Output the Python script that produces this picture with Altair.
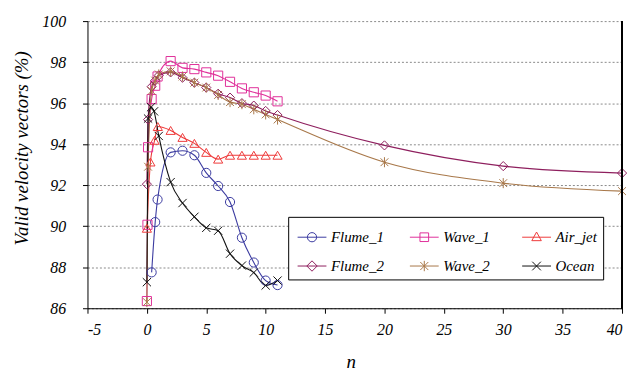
import altair as alt
import pandas as pd

# ---- data ----
series = ["Flume_1", "Wave_1", "Air_jet", "Flume_2", "Wave_2", "Ocean"]
colors = ["#3B3BA0", "#E0309A", "#EE3A3A", "#8E1F5E", "#A8784A", "#111111"]

flume1_n = [0.4, 0.7, 0.9, 2, 3, 4, 5, 6, 7, 8, 9, 10, 11]
flume1_v = [87.75, 90.2, 91.3, 93.6, 93.68, 93.46, 92.6, 91.96, 91.18, 89.44, 88.23, 87.35, 87.13]

wave1_n = [0, 0.05, 0.1, 0.4, 0.7, 0.9, 2, 3, 4, 5, 6, 7, 8, 9, 10, 11]
wave1_v = [86.35, 90.07, 93.85, 96.2, 96.85, 97.3, 98.05, 97.72, 97.66, 97.5, 97.34, 97.04, 96.72, 96.53, 96.37, 96.09]

airjet_n = [0, 0.3, 0.65, 0.92, 2, 3, 4, 5, 6, 7, 8, 9, 10, 11]
airjet_v = [89.9, 93.13, 94.19, 94.86, 94.67, 94.33, 94.04, 93.6, 93.27, 93.46, 93.46, 93.46, 93.46, 93.46]

flume2_n = [0, 0.1, 0.4, 0.7, 1, 2, 3, 4, 5, 6, 7, 8, 9, 10, 11, 20, 30, 40]
flume2_v = [92.05, 95.2, 96.8, 97.1, 97.35, 97.5, 97.24, 97.0, 96.76, 96.46, 96.27, 96.0, 95.88, 95.62, 95.42, 93.94, 92.93, 92.59]

wave2_n = [0, 0.1, 0.4, 0.7, 1, 2, 3, 4, 5, 6, 7, 8, 9, 10, 11, 20, 30, 40]
wave2_v = [86.3, 92.9, 96.6, 97.1, 97.4, 97.55, 97.3, 97.0, 96.76, 96.4, 96.05, 95.95, 95.7, 95.45, 95.2, 93.12, 92.1, 91.71]

ocean_n = [0, 0.1, 0.35, 0.6, 1, 2, 3, 4, 5, 6, 7, 8, 9, 10, 11]
ocean_v = [87.27, 95.25, 95.8, 95.6, 94.4, 92.15, 91.13, 90.46, 89.92, 89.78, 88.66, 88.08, 87.74, 87.11, 87.35]

x_ticks = [-5, 0, 5, 10, 15, 20, 25, 30, 35, 40]
y_ticks = [86, 88, 90, 92, 94, 96, 98, 100]

pairs = [(flume1_n, flume1_v), (wave1_n, wave1_v), (airjet_n, airjet_v),
         (flume2_n, flume2_v), (wave2_n, wave2_v), (ocean_n, ocean_v)]
rows = []
for s, (ns, vs) in zip(series, pairs):
    for i, (n, v) in enumerate(zip(ns, vs)):
        rows.append({"series": s, "n": n, "v": v, "i": i})
df = pd.DataFrame(rows)

# ---- marker shapes ----
asterisk = "M0,-1.1V1.1M-0.85,-0.85L0.85,0.85M-0.85,0.85L0.85,-0.85"
xmark = "M-0.9,-0.9L0.9,0.9M-0.9,0.9L0.9,-0.9"
plot_shapes = ["circle", "square", "triangle-up", "diamond", asterisk, xmark]

cx = 0.24
ln = f"M{-1+cx},0H{1+cx}"
r = 0.32
leg_shapes = [
    ln + f"M{cx+r},0A{r},{r} 0 1,1 {cx-r},0A{r},{r} 0 1,1 {cx+r},0Z",
    ln + f"M{cx-0.3},-0.3H{cx+0.3}V0.3H{cx-0.3}Z",
    ln + f"M{cx},-0.36L{cx+0.33},0.24H{cx-0.33}Z",
    ln + f"M{cx},-0.36L{cx+0.36},0L{cx},0.36L{cx-0.36},0Z",
    ln + f"M{cx},-0.36V0.36M{cx-0.28},-0.28L{cx+0.28},0.28M{cx-0.28},0.28L{cx+0.28},-0.28",
    ln + f"M{cx-0.3},-0.3L{cx+0.3},0.3M{cx-0.3},0.3L{cx+0.3},-0.3",
]

font = "Liberation Serif"

x_enc = alt.X("n:Q", scale=alt.Scale(domain=[-5, 40], nice=False, zero=False),
              axis=alt.Axis(values=x_ticks, title="n", grid=False, tickSize=5,
                            labelPadding=8, labelExpr="'' + datum.value",
                            labelFont=font, labelFontStyle="italic", labelFontSize=16,
                            titleFont=font, titleFontStyle="italic",
                            titleFontSize=19, titleY=54, titleX=265,
                            titleBaseline="middle"))
y_enc = alt.Y("v:Q", scale=alt.Scale(domain=[86, 100], nice=False, zero=False),
              axis=alt.Axis(values=y_ticks, title="Valid velocity vectors (%)", grid=True,
                            gridDash=[2, 2], gridColor="#8a8a8a", tickSize=5,
                            labelFont=font, labelFontStyle="italic", labelFontSize=16,
                            titleFont=font, titleFontStyle="italic",
                            labelPadding=17, titleFontSize=19, titleX=-66, titleY=127.5,
                            titleAngle=270, titleAlign="center", titleBaseline="middle"))

color_scale = alt.Scale(domain=series, range=colors)

base = alt.Chart(df)

lines = base.mark_line(strokeWidth=1.1, interpolate="monotone").encode(
    x=x_enc, y=y_enc,
    color=alt.Color("series:N", scale=color_scale, legend=None),
    detail="series:N",
    order="i:Q",
)

points = base.mark_point(filled=False, size=85, strokeWidth=1, opacity=1).encode(
    x=x_enc, y=y_enc,
    color=alt.Color("series:N", scale=color_scale, legend=None),
    shape=alt.Shape("series:N", scale=alt.Scale(domain=series, range=plot_shapes), legend=None),
)

legend_layer = base.transform_filter("false").mark_point(filled=False, strokeWidth=1, opacity=1).encode(
    x=x_enc, y=y_enc,
    color=alt.Color("series:N", scale=color_scale, legend=alt.Legend(title=None)),
    shape=alt.Shape("series:N", scale=alt.Scale(domain=series, range=leg_shapes),
                    legend=alt.Legend(title=None)),
)

right_border = alt.Chart(df).mark_rule(color="black", strokeWidth=1).encode(
    x=alt.datum(40)
)

chart = alt.layer(lines, points, legend_layer, right_border).resolve_scale(
    color="independent", shape="independent"
).properties(
    width=538, height=289,
    autosize=alt.AutoSizeParams(type="none"),
    padding={"left": 80, "top": 12, "right": 5, "bottom": 68},
).configure_view(stroke=None).configure_axis(
    labelColor="black", titleColor="black",
    domainColor="black", tickColor="black", domainWidth=1, tickWidth=1,
    titleFontWeight="normal",
).configure_legend(
    orient="none", legendX=202, legendY=197,
    direction="horizontal", columns=3, gridAlign="all",
    strokeColor="black", fillColor="white", padding=5.5, cornerRadius=0,
    symbolSize=841, symbolStrokeWidth=1, labelOffset=7.5,
    columnPadding=22, rowPadding=6,
    labelFont=font, labelFontStyle="italic", labelFontSize=15, labelColor="black",
)

chart.save("out.html", embed_options={"renderer": "svg", "actions": False})
